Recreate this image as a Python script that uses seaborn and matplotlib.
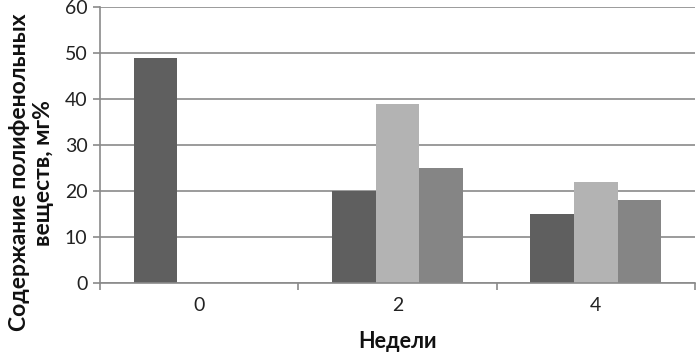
import matplotlib
matplotlib.use("Agg")
import matplotlib.pyplot as plt
import seaborn as sns
import pandas as pd
from matplotlib.ticker import FixedLocator

weeks = ["0", "2", "4"]
series_names = ["Серия 1", "Серия 2", "Серия 3"]
series1 = [49, 20, 15]
series2 = [0, 39, 22]
series3 = [0, 25, 18]
colors = ["#5f5f5f", "#b3b3b3", "#858585"]

rows = []
for name, vals in zip(series_names, [series1, series2, series3]):
    for w, v in zip(weeks, vals):
        rows.append({"Недели": w, "Серия": name, "Значение": v})
df = pd.DataFrame(rows)

sns.set_theme(style="white")
plt.rcParams['font.family'] = ['Lato', 'DejaVu Sans']

fig = plt.figure(figsize=(6.96, 3.56), dpi=100)
ax = fig.add_axes([100/696, 1-283/356, 595/696, 276/356])

sns.barplot(data=df, x="Недели", y="Значение", hue="Серия", palette=colors,
            width=0.66, ax=ax, legend=False, linewidth=0, saturation=1)

ax.set_ylim(0, 60)
ax.set_xlim(-0.5, 2.5)
ax.set_yticks(range(0, 61, 10))
ax.yaxis.grid(True, color="#8a8a8a", linewidth=1.2)
ax.set_axisbelow(True)
for s in ["top", "right"]:
    ax.spines[s].set_visible(False)
for s in ["left", "bottom"]:
    ax.spines[s].set_color("#8a8a8a")
    ax.spines[s].set_linewidth(1.2)

ax.tick_params(axis="y", which="major", left=True, length=5, width=1.2, color="#8a8a8a",
               labelsize=14, labelcolor="#222222", pad=4)
ax.tick_params(axis="x", which="major", length=0, labelsize=14, labelcolor="#222222", pad=10)
ax.xaxis.set_minor_locator(FixedLocator([-0.5, 0.5, 1.5, 2.5]))
ax.tick_params(axis="x", which="minor", bottom=True, length=5, width=1.2, color="#8a8a8a")

ax.set_xlabel("Недели", fontsize=15.5, fontweight="bold", color="#111111")
ax.xaxis.set_label_coords(0.5, -0.175)
ax.set_ylabel("Содержание полифенольных\nвеществ, мг%", fontsize=16.5, fontweight="bold",
              color="#111111", linespacing=1.15)
ax.yaxis.set_label_coords(-0.078, 0.40)

fig.savefig("out.png", dpi=100)
